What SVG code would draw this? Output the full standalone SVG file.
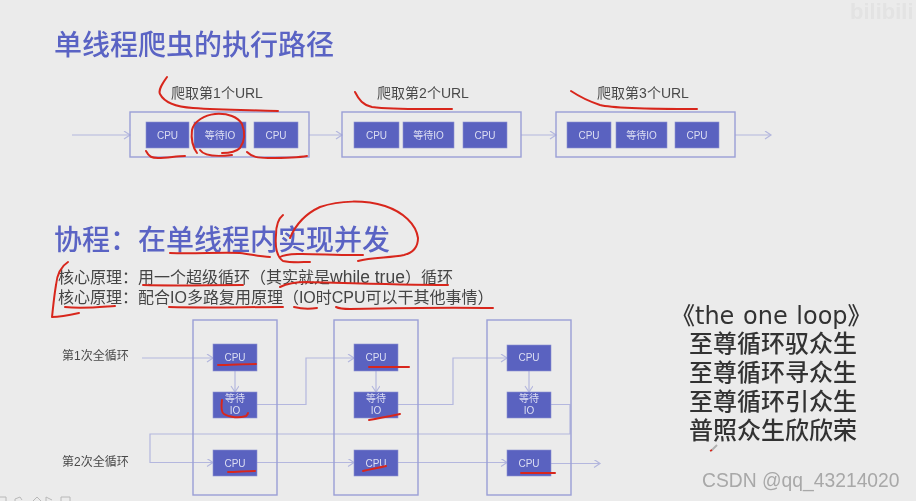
<svg xmlns="http://www.w3.org/2000/svg" width="916" height="501" viewBox="0 0 916 501">
<style>
text{font-family:"Liberation Sans","Noto Sans CJK SC",sans-serif}
.h{font-size:28px;fill:#5a64c4;font-weight:500}
.t{font-size:14px;fill:#4a4a4a;text-anchor:middle}
.b{font-size:16px;fill:#444}
.l{font-size:12px;fill:#4a4a4a}
.g{fill:none;stroke:#9a9fd6;stroke-width:1.4}
.n{fill:#5a62c0;stroke:#8d92d0;stroke-width:.6}
.w{font-size:10px;fill:#dcdef2;text-anchor:middle}
.c{fill:none;stroke:#b4b7de;stroke-width:1.2}
.r{fill:none;stroke:#d8281e;stroke-width:2;stroke-linecap:round;stroke-linejoin:round}
.p{font-family:"DejaVu Sans","Noto Sans CJK SC",sans-serif;font-size:24px;fill:#333;font-weight:500}
.i{fill:none;stroke:#b8b8b8;stroke-width:1}
</style>
<defs>
<marker id="a" markerWidth="10" markerHeight="10" refX="7" refY="4" orient="auto" markerUnits="userSpaceOnUse"><path d="M1 0L7 4L1 8" fill="none" stroke="#b4b7de" stroke-width="1.2"/></marker>
<filter id="s" x="0" y="0" width="100%" height="100%"><feGaussianBlur stdDeviation=".35"/></filter>
</defs>
<rect width="916" height="501" fill="#ebebeb"/>
<g filter="url(#s)">
<text x="54" y="55" class="h">单线程爬虫的执行路径</text>
<text x="54" y="250" class="h">协程：在单线程内实现并发</text>
<text x="58" y="283" class="b">核心原理：用一个超级循环（其实就是<tspan style="font-size:17.500px">while true</tspan>）循环</text>
<text x="58" y="303" class="b">核心原理：配合IO多路复用原理（IO时CPU可以干其他事情）</text>

<g id="connectors">
<path class="c" marker-end="url(#a)" d="M72 135H130"/>
<path class="c" marker-end="url(#a)" d="M309 135H342"/>
<path class="c" marker-end="url(#a)" d="M521 135H556"/>
<path class="c" marker-end="url(#a)" d="M735 135H771"/>
<path class="c" marker-end="url(#a)" d="M142 358H213"/>
<path class="c" marker-end="url(#a)" d="M235 371V392"/>
<path class="c" marker-end="url(#a)" d="M257 404.500H306V358H354"/>
<path class="c" marker-end="url(#a)" d="M376 371V392"/>
<path class="c" marker-end="url(#a)" d="M398 404.500H453V358H507"/>
<path class="c" marker-end="url(#a)" d="M529 371V392"/>
<path class="c" marker-end="url(#a)" d="M551 404.500H570V434H150V462.500H213"/>
<path class="c" marker-end="url(#a)" d="M257 462.500H354"/>
<path class="c" marker-end="url(#a)" d="M398 462.500H507"/>
<path class="c" marker-end="url(#a)" d="M551 463.500H600"/>
</g>

<g id="url1"><text x="217" y="98" class="t">爬取第1个URL</text><rect x="130" y="112" width="179" height="45" class="g"/>
<rect x="146" y="122" width="43" height="26" class="n"/><text x="167.500" y="139" class="w">CPU</text>
<rect x="194" y="122" width="52" height="26" class="n"/><text x="220" y="139" class="w">等待IO</text>
<rect x="254" y="122" width="44" height="26" class="n"/><text x="276" y="139" class="w">CPU</text></g>
<g id="url2"><text x="423" y="98" class="t">爬取第2个URL</text><rect x="342" y="112" width="179" height="45" class="g"/>
<rect x="354" y="122" width="45" height="26" class="n"/><text x="376.500" y="139" class="w">CPU</text>
<rect x="403" y="122" width="51" height="26" class="n"/><text x="428.500" y="139" class="w">等待IO</text>
<rect x="463" y="122" width="44" height="26" class="n"/><text x="485" y="139" class="w">CPU</text></g>
<g id="url3"><text x="643" y="98" class="t">爬取第3个URL</text><rect x="556" y="112" width="179" height="45" class="g"/>
<rect x="567" y="122" width="44" height="26" class="n"/><text x="589" y="139" class="w">CPU</text>
<rect x="616" y="122" width="51" height="26" class="n"/><text x="641.500" y="139" class="w">等待IO</text>
<rect x="675" y="122" width="44" height="26" class="n"/><text x="697" y="139" class="w">CPU</text></g>

<text x="62" y="360" class="l">第1次全循环</text>
<text x="62" y="466" class="l">第2次全循环</text>

<g id="col1"><rect x="193" y="320" width="84" height="175" class="g"/>
<rect x="213" y="344" width="44" height="27" class="n"/><text x="235" y="361" class="w">CPU</text>
<rect x="213" y="392" width="44" height="26" class="n"/><text x="235" y="402" class="w">等待</text><text x="235" y="414" class="w">IO</text>
<rect x="213" y="450" width="44" height="26" class="n"/><text x="235" y="467" class="w">CPU</text></g>
<g id="col2"><rect x="334" y="320" width="84" height="175" class="g"/>
<rect x="354" y="344" width="44" height="27" class="n"/><text x="376" y="361" class="w">CPU</text>
<rect x="354" y="392" width="44" height="26" class="n"/><text x="376" y="402" class="w">等待</text><text x="376" y="414" class="w">IO</text>
<rect x="354" y="450" width="44" height="26" class="n"/><text x="376" y="467" class="w">CPU</text></g>
<g id="col3"><rect x="487" y="320" width="84" height="175" class="g"/>
<rect x="507" y="345" width="44" height="26" class="n"/><text x="529" y="361" class="w">CPU</text>
<rect x="507" y="392" width="44" height="26" class="n"/><text x="529" y="402" class="w">等待</text><text x="529" y="414" class="w">IO</text>
<rect x="507" y="450" width="44" height="26" class="n"/><text x="529" y="467" class="w">CPU</text></g>

<g id="poem">
<text x="671" y="324" class="p" style="word-spacing:1px">《the one loop》</text>
<text x="689" y="352" class="p">至尊循环驭众生</text>
<text x="689" y="381" class="p">至尊循环寻众生</text>
<text x="689" y="410" class="p">至尊循环引众生</text>
<text x="689" y="439" class="p">普照众生欣欣荣</text>
</g>
<text x="702" y="487" style="font-size:19.300px;fill:#a8a8a8">CSDN @qq_43214020</text>
<text x="850" y="19" style="font-size:22px;font-weight:bold;fill:#e3e3e3">bilibili</text>
<path d="M711 451L717 445" stroke="#b0b0b0" stroke-width="2"/><path d="M710 451L712 450" stroke="#d8281e" stroke-width="1.500"/>
<path class="i" d="M0 497H6V501M15 501V499L20 497L22 500M33 501L37 497L41 501M46 501V497L52 500M61 501V497H70V501"/>

<g id="ink">
<path class="r" d="M167 77C162 84 158 90 160 94C165 104 178 107 193 108C222 110 250 110 278 111"/>
<path class="r" d="M146 151C149 157 152 158 158 158C168 158 176 156 185 156"/>
<path class="r" d="M197 153C192 146 191 138 192 130C194 121 205 115 215 114C228 113 238 117 242 124C245 132 245 141 240 148C236 152 228 153 222 153"/>
<path class="r" d="M200 150C204 156 215 157 232 155"/>
<path class="r" d="M247 152C252 157 258 158 268 158C282 158 296 158 307 156"/>
<path class="r" d="M355 92C359 100 363 105 372 107C395 110 425 109 452 109"/>
<path class="r" d="M571 91C580 97 588 101 600 105C615 109 660 109 697 109"/>
<path class="r" d="M170 253C195 254 220 252 240 253C250 254 260 257 270 257"/>
<path class="r" d="M283 215C278 219 276 226 276 235C275 246 276 256 283 261C292 263 302 262 310 262"/>
<path class="r" d="M280 257C290 251 330 256 363 255"/>
<path class="r" d="M290 238C295 226 305 214 320 207C340 200 365 200 385 206C403 212 416 224 418 238C418 248 412 253 404 255C390 258 372 257 358 261"/>
<path class="r" d="M68 262C60 267 57 275 56 285C54 297 53 308 52 317C60 317 70 315 79 313"/>
<path class="r" d="M143 285C175 286 210 285 243 285"/>
<path class="r" d="M280 287C288 283 297 282 307 282C345 283 400 285 448 285"/>
<path class="r" d="M65 307C82 309 100 307 115 306"/>
<path class="r" d="M169 307C205 308 245 307 283 307"/>
<path class="r" d="M294 307C302 309 310 309 317 308"/>
<path class="r" d="M336 307C340 309 344 309 350 309C395 308 445 307 493 308"/>
<path class="r" d="M218 365C230 365 244 364 256 364"/>
<path class="r" d="M222 400C221 407 221 412 224 414C230 418 240 418 246 416C247 415 248 414 248 413"/>
<path class="r" d="M228 472C237 472 246 471 255 471"/>
<path class="r" d="M369 367H409"/>
<path class="r" d="M369 420C380 418 390 416 400 414"/>
<path class="r" d="M363 471C371 469 378 468 386 466"/>
<path class="r" d="M521 473H555"/>
</g>
</g>
</svg>
